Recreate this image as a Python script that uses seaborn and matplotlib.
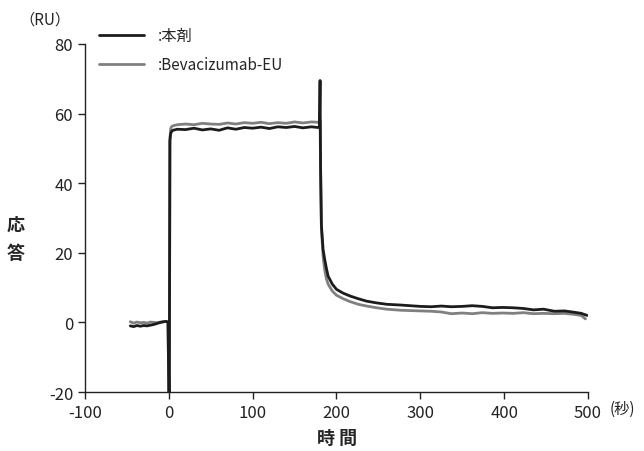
import matplotlib
matplotlib.use("Agg")
import matplotlib.pyplot as plt
import seaborn as sns
import pandas as pd

# Data
t_black = [-46, -42, -38, -34, -30, -26, -22, -18, -14, -10, -6, -3, -1, 0, 0.6,
           1.2, 2, 3, 5, 10, 20, 30, 40, 50, 60, 70, 80, 90, 100, 110,
           120, 130, 140, 150, 160, 170, 178, 179.6, 180.4, 181.0,
           182, 184, 186, 188, 190, 195, 200, 208, 216, 226,
           236, 248, 260, 276, 288, 300, 313, 325, 337, 350,
           362, 374, 386, 398, 411, 423, 435, 447, 460, 472, 484, 492, 499]
y_black = [-1.0, -1.2, -0.9, -1.1, -0.9, -1.0, -0.8, -0.6, -0.3, 0.0, 0.2, 0.3, 0.0, -20, -20,
           52, 54, 54.8, 55.2, 55.5, 55.4, 55.8, 55.3, 55.6, 55.2, 55.9, 55.5, 56.0, 55.8, 56.1,
           55.7, 56.2, 56.0, 56.3, 55.9, 56.2, 56.0, 56.1, 69.5, 45,
           28, 21, 18, 15.5, 13.3, 11.0, 9.5, 8.4, 7.6, 6.8,
           6.1, 5.6, 5.2, 5.0, 4.8, 4.6, 4.5, 4.7, 4.5, 4.6,
           4.8, 4.6, 4.2, 4.3, 4.2, 4.0, 3.6, 3.8, 3.2, 3.3, 2.9, 2.6, 2.0]

t_gray = [-46, -42, -38, -34, -30, -26, -22, -18, -14, -10, -6, -3, -1, 0, 0.6,
          1.4, 2.2, 3, 5, 10, 20, 30, 40, 50, 60, 70, 80, 90, 100, 110,
          120, 130, 140, 150, 160, 170, 178, 179.6, 180.4, 181.2,
          182, 184, 186, 188, 190, 195, 200, 208, 216, 226,
          236, 248, 260, 276, 288, 300, 313, 325, 337, 350,
          362, 374, 386, 398, 411, 423, 435, 447, 460, 472, 484, 492, 497]
y_gray = [0.2, -0.2, 0.1, -0.1, 0.0, -0.2, 0.1, 0.0, -0.1, 0.1, 0.2, 0.3, 0.1, -20, -20,
          53, 55.5, 56.2, 56.5, 56.8, 57.0, 56.8, 57.2, 57.0, 56.9, 57.3, 57.0, 57.4, 57.2, 57.5,
          57.1, 57.4, 57.2, 57.6, 57.3, 57.6, 57.5, 57.8, 58.0, 40,
          27, 19, 15, 12.5, 11.0, 9.0, 7.8, 6.8, 6.0, 5.2,
          4.7, 4.2, 3.8, 3.5, 3.4, 3.3, 3.2, 3.0, 2.5, 2.7,
          2.5, 2.8, 2.6, 2.7, 2.6, 2.8, 2.5, 2.6, 2.5, 2.6, 2.3, 2.0, 1.0]

labels = [":本剤", ":Bevacizumab-EU"]
colors = ["#1c1c1c", "#808080"]
x_ticks = [-100, 0, 100, 200, 300, 400, 500]
y_ticks = [-20, 0, 20, 40, 60, 80]

sns.set_style("ticks")
plt.rcParams["font.family"] = ["Noto Sans CJK JP", "DejaVu Sans"]
plt.rcParams["axes.unicode_minus"] = False

df_b = pd.DataFrame({"t": t_black, "y": y_black})
df_g = pd.DataFrame({"t": t_gray, "y": y_gray})

fig = plt.figure(figsize=(6.44, 4.52), dpi=100)
ax = fig.add_axes([0.132, 0.1305, 0.781, 0.77])

sns.lineplot(data=df_g, x="t", y="y", ax=ax, color=colors[1], lw=2.0,
             estimator=None, sort=False, label=labels[1])
sns.lineplot(data=df_b, x="t", y="y", ax=ax, color=colors[0], lw=2.0,
             estimator=None, sort=False, label=labels[0])

ax.set_xlim(-100, 500)
ax.set_ylim(-20, 80)
ax.set_xticks(x_ticks)
ax.set_yticks(y_ticks)
ax.tick_params(direction="out", length=5, width=1, labelsize=12, colors="#222222")
for s in ["top", "right"]:
    ax.spines[s].set_visible(False)
for s in ["left", "bottom"]:
    ax.spines[s].set_linewidth(1)
    ax.spines[s].set_color("#222222")
ax.set_xlabel("")
ax.set_ylabel("")

handles, labs = ax.get_legend_handles_labels()
order = [labs.index(labels[0]), labs.index(labels[1])]
leg = ax.legend([handles[i] for i in order], [labs[i] for i in order],
                loc="upper left", bbox_to_anchor=(0.133, 0.968), bbox_transform=fig.transFigure,
                frameon=False, fontsize=11, handlelength=2.9, handletextpad=0.9,
                labelspacing=0.8)

fig.text(0.07, 0.955, "（RU）", fontsize=11, ha="center", va="center")
fig.text(0.966, 0.095, "(秒)", fontsize=11, ha="center", va="center")
fig.text(0.024, 0.47, "応\n答", fontsize=13, fontweight="bold", ha="center", va="center",
         linespacing=1.6)
fig.text(0.523, 0.03, "時 間", fontsize=13, fontweight="bold", ha="center", va="center")

fig.savefig("out.png", dpi=100)
